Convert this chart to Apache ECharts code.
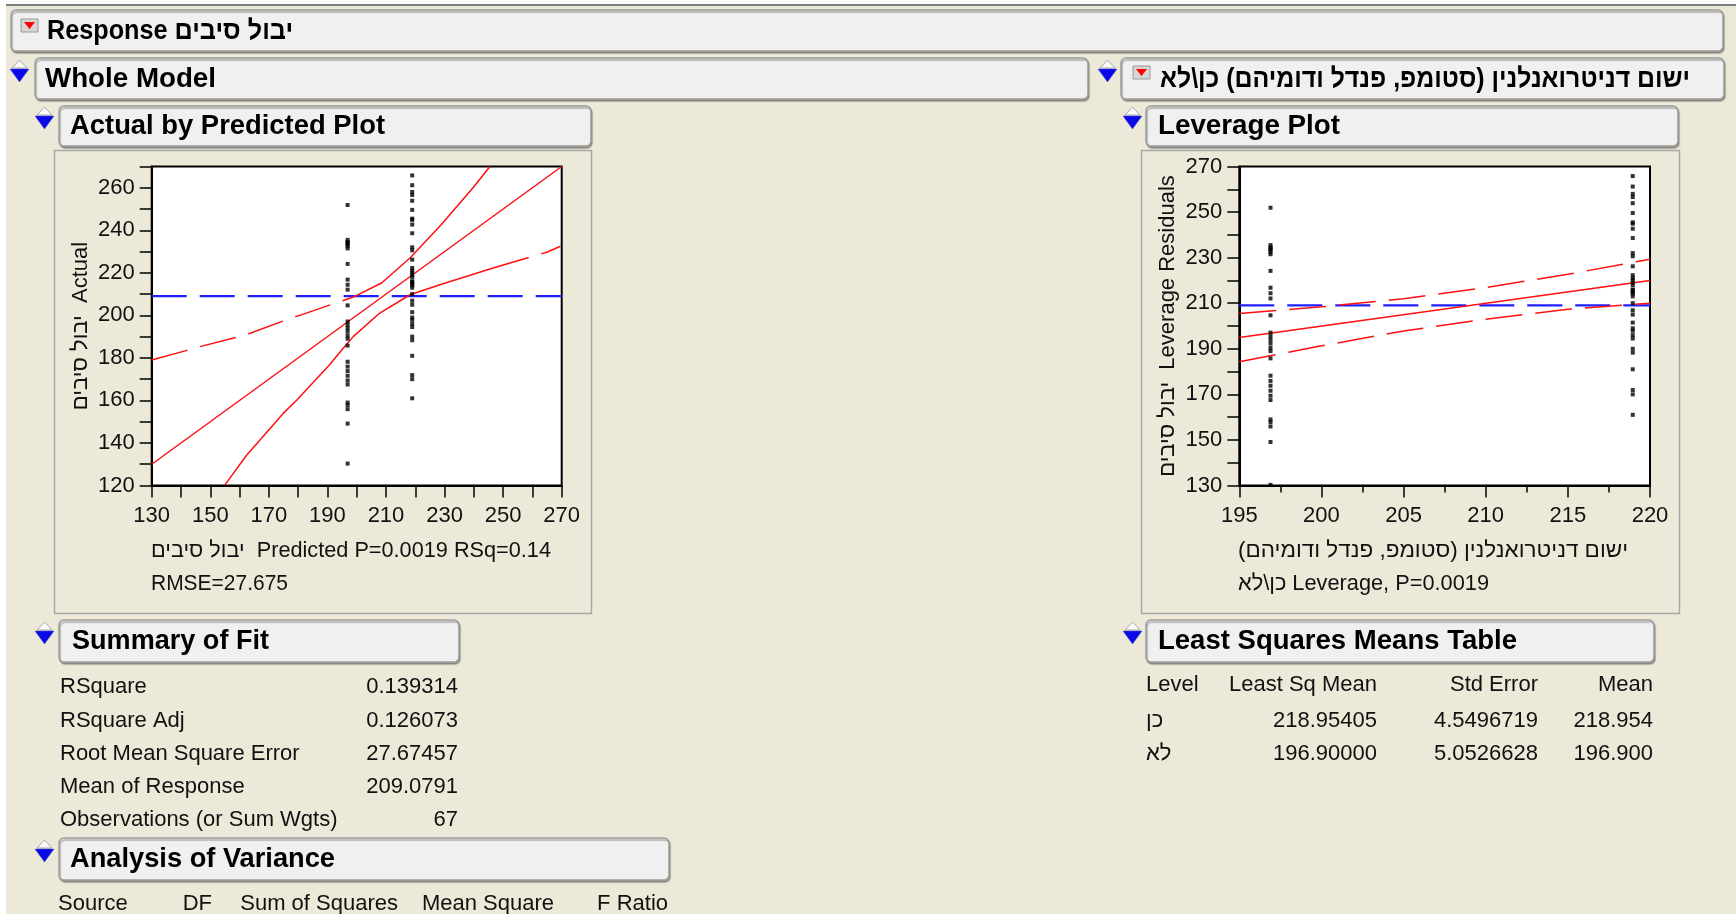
<!DOCTYPE html>
<html><head><meta charset="utf-8">
<script src="https://cdn.jsdelivr.net/npm/echarts@6/dist/echarts.min.js"></script>
<style>html,body{margin:0;padding:0;background:#ffffff;} #c{width:1736px;height:914px;}</style>
</head><body><div id="c"></div>
<script>
// ---------------- data ----------------
const responseName = 'יבול סיבים';
const factorName = 'ישום דניטרואנלנין (סטומפ, פנדל ודומיהם)';
const factorLevelsName = 'כן\\לא';

const noPredicted = 196.9;     // level לא
const yesPredicted = 218.95;   // level כן
const meanResponse = 209.0791;

const noGroupActual = [251.9, 235.5, 234.5, 234, 233.5, 232.5, 231.5, 224.2, 216.8, 214.4, 212.1, 204.7, 197.1, 195.5, 194,
  192.4, 190.5, 189, 185.8, 178.2, 175.9, 173.8, 171.6, 169.4, 167.5, 159, 157.8, 155.9, 149.1, 130.3];
const yesGroupActual = [265.8, 261.2, 258, 256.6, 253.9, 249.6, 245.5, 244.9, 242.7, 238.6, 232, 230.6, 226.2, 222.3, 221,
  220.1, 219, 217.9, 216, 215.7, 214.8, 214.2, 213, 210, 206.9, 205, 201.5, 199, 197.9, 196, 194.5, 190, 188.3, 181, 171.9, 170, 161];

// Actual by Predicted: fit line (Actual = Predicted) and confidence curves
const leftFitX = [130, 270];
const leftUpperX = [130, 141.4, 146.5, 159.0, 163.6, 176.6, 181.8, 194.3, 198.8, 208.5, 218.2, 229.0, 239.8, 245.5];
const leftUpperY = [179.0, 183.3, 185.3, 189.7, 191.6, 198.2, 200.6, 206.5, 208.6, 215.2, 227.0, 242.8, 260.1, 270];
const leftLowerX = [155.0, 162.4, 174.9, 179.5, 190.9, 194.9, 198.8, 207.9, 218.2, 228.4, 246.6, 264.9, 269.6];
const leftLowerY = [120.3, 134.2, 153.9, 160.1, 177.0, 183.7, 190.0, 201.1, 209.7, 214.4, 222.3, 229.7, 232.5];

// Leverage plot
const rightFitX = [195, 220];
const rightUpperX = [195, 200, 205, 210, 215, 220];
const rightUpperY = [205.5, 208.4, 212.0, 216.9, 222.7, 229.3];
const rightLowerX = [195, 200, 205, 210, 215, 220];
const rightLowerY = [184.3, 191.3, 197.8, 203.0, 207.3, 210.0];

// axes
const leftXAxis = {min: 130, max: 270, step: 10, labelStep: 20};
const leftYAxis = {min: 120, max: 270, step: 10, labelStep: 20};
const rightXAxis = {min: 195, max: 220, step: 5};
const rightYAxis = {min: 130, max: 270, step: 10, labelStep: 20};

// tables
const summaryLabels = ['RSquare', 'RSquare Adj', 'Root Mean Square Error', 'Mean of Response', 'Observations (or Sum Wgts)'];
const summaryValues = ['0.139314', '0.126073', '27.67457', '209.0791', '67'];
const lsmHeaders = ['Level', 'Least Sq Mean', 'Std Error', 'Mean'];
const lsmLevels = ['כן', 'לא'];
const lsmLeastSq = ['218.95405', '196.90000'];
const lsmStdErr = ['4.5496719', '5.0526628'];
const lsmMean = ['218.954', '196.900'];
const anovaHeaders = ['Source', 'DF', 'Sum of Squares', 'Mean Square', 'F Ratio'];

// ---------------- chart ----------------
const FONT = "'Liberation Sans', Arial, 'DejaVu Sans', sans-serif";
const TXT = '#111111';
const FS = 22;
const zip = (xs, ys) => xs.map((x, i) => [x, ys[i]]);
const mctx = document.createElement('canvas').getContext('2d');

const chart = echarts.init(document.getElementById('c'), null, {renderer: 'canvas'});

function valAxis(gridIndex, ax, isX, name) {
  const o = {
    type: 'value', gridIndex, min: ax.min, max: ax.max, interval: ax.step,
    axisLine: {show: true, onZero: false, lineStyle: {color: '#000', width: 2}},
    axisTick: {show: true, inside: false, length: 12, lineStyle: {color: '#000', width: 1.5}},
    splitLine: {show: false},
    axisLabel: {
      color: TXT, fontSize: FS, fontFamily: FONT, margin: isX ? 19 : 17,
      formatter: v => (ax.labelStep ? (Math.abs((v - ax.min) % ax.labelStep) < 1e-6 ? String(v) : '') : String(v))
    }
  };
  if (name) {
    o.name = name; o.nameLocation = 'middle'; o.nameRotate = 90; o.nameGap = 60;
    o.nameTextStyle = {color: TXT, fontSize: FS, fontFamily: FONT};
  }
  return o;
}

const rightX = valAxis(1, rightXAxis, true);
rightX.minorTick = {show: true, splitNumber: 2, length: 7, lineStyle: {color: '#000', width: 1.5}};

const redSolid = {color: '#FF1010', width: 1.5};
const redDash = {color: '#FF1010', width: 1.5, type: [37, 13]};
const blueDash = {color: '#2020FF', width: 2.2, type: [35, 13]};

function lineSeries(idx, data, style, z) {
  return {type: 'line', xAxisIndex: idx, yAxisIndex: idx, data, symbol: 'none', showSymbol: false,
    lineStyle: style, clip: true, silent: true, z: z || 2, animation: false};
}

const series = [
  // left: Actual by Predicted
  lineSeries(0, leftFitX.map(x => [x, meanResponse]), blueDash, 1),
  lineSeries(0, leftFitX.map(x => [x, x]), redSolid),
  lineSeries(0, zip(leftUpperX, leftUpperY).slice(0, 9), redDash),
  lineSeries(0, zip(leftUpperX, leftUpperY).slice(8), redSolid),
  lineSeries(0, zip(leftLowerX, leftLowerY).slice(0, 11), redSolid),
  lineSeries(0, zip(leftLowerX, leftLowerY).slice(10), redDash),
  {type: 'scatter', xAxisIndex: 0, yAxisIndex: 0, symbol: 'rect', symbolSize: [4, 4],
    itemStyle: {color: '#000'}, z: 5, silent: true, clip: false,
    data: noGroupActual.map(v => [noPredicted, v]).concat(yesGroupActual.map(v => [yesPredicted, v]))},
  // right: Leverage plot
  lineSeries(1, rightFitX.map(x => [x, meanResponse]), blueDash, 1),
  lineSeries(1, rightFitX.map(x => [x, x]), redSolid),
  lineSeries(1, zip(rightUpperX, rightUpperY), redDash),
  lineSeries(1, zip(rightLowerX, rightLowerY), redDash),
  {type: 'scatter', xAxisIndex: 1, yAxisIndex: 1, symbol: 'rect', symbolSize: [4, 4],
    itemStyle: {color: '#000'}, z: 5, silent: true, clip: false,
    data: noGroupActual.map(v => [noPredicted, v]).concat(yesGroupActual.map(v => [yesPredicted, v]))}
];

// ---------- graphic helpers ----------
const G = [];
function rect(x, y, w, h, style, r, z) {
  G.push({type: 'rect', shape: {x, y, width: w, height: h, r: r || 0}, style, z: z || 0, silent: true});
}
// fitW: width the text occupies in the reference (stretch/squeeze horizontally to it)
function text(t, x, y, opts) {
  opts = opts || {};
  const font = (opts.bold ? 'bold ' : '') + (opts.size || FS) + 'px ' + FONT;
  let sx = 1;
  if (opts.fitW) { mctx.font = font; const w = mctx.measureText(t).width; if (w > 0) sx = opts.fitW / w; }
  G.push({type: 'text', x, y, scaleX: sx, silent: true, z: 10, style: {
    text: t, x: 0, y: 0, fill: opts.fill || TXT, align: opts.align || 'left', verticalAlign: 'middle', font}});
}
function header(x, y, w, h, t, tx, fitW) {
  G.push({type: 'rect', shape: {x: x, y: y, width: w, height: h, r: 5}, silent: true, z: 1,
    style: {fill: '#F0F0F0', stroke: '#9C9C9C', lineWidth: 1.5,
      shadowColor: 'rgba(0,0,0,0.30)', shadowOffsetX: 1, shadowOffsetY: 2, shadowBlur: 1}});
  text(t, tx, y + h / 2 + 1, {bold: true, size: 27, fill: '#000', fitW});
}
function blueIcon(x0, y0) {
  G.push({type: 'polygon', shape: {points: [[x0 + 9.5, y0], [x0 + 17, y0 + 8], [x0 + 2, y0 + 8]]}, silent: true, z: 3,
    style: {fill: '#FAFAFA', stroke: '#A8A8A8', lineWidth: 1}});
  G.push({type: 'polygon', shape: {points: [[x0, y0 + 9], [x0 + 19, y0 + 9], [x0 + 9.5, y0 + 22]]}, silent: true, z: 3,
    style: {fill: '#0A0AE6', stroke: '#5050C8', lineWidth: 0.5}});
}
function redIcon(x0, y0) {
  G.push({type: 'rect', shape: {x: x0, y: y0, width: 17, height: 13}, silent: true, z: 3,
    style: {fill: '#D6D6D6', stroke: '#9A9A9A', lineWidth: 1}});
  G.push({type: 'polygon', shape: {points: [[x0 + 3, y0 + 3], [x0 + 14, y0 + 3], [x0 + 8.5, y0 + 10]]}, silent: true, z: 4,
    style: {fill: '#FF0000'}});
}

// page background (beige) with top rule
rect(6, 6, 1730, 908, {fill: '#ECE9D8'}, 0, -5);
G.push({type: 'line', shape: {x1: 6, y1: 5, x2: 1736, y2: 5}, style: {stroke: '#7C7C7C', lineWidth: 2}, silent: true, z: 0});

// headers
header(11, 10, 1712, 41, 'Response ' + responseName, 47, 246);
redIcon(21, 19);
header(35, 58, 1053, 41, 'Whole Model', 45, 171);
blueIcon(10, 60);
header(1121, 58, 603, 41, factorName + ' ' + factorLevelsName, 1160, 530);
blueIcon(1098, 60);
redIcon(1133, 66);
header(59, 106, 532, 40, 'Actual by Predicted Plot', 70, 315);
blueIcon(35, 107);
header(1146, 106, 532, 40, 'Leverage Plot', 1158, 182);
blueIcon(1123, 107);

// plot panels
rect(54.5, 150.5, 537, 463, {fill: 'none', stroke: '#A6A6A6', lineWidth: 1.5}, 0, 0);
rect(1141.5, 150.5, 538, 463, {fill: 'none', stroke: '#A6A6A6', lineWidth: 1.5}, 0, 0);

// plot footers
text(responseName + '  Predicted P=0.0019 RSq=0.14', 151, 551, {fitW: 400});
text('RMSE=27.675', 151, 584, {fitW: 137});
text(factorName, 1238, 551, {fitW: 390});
text(factorLevelsName + ' Leverage, P=0.0019', 1238, 584, {fitW: 251});

// Summary of Fit
header(59, 620, 400, 42, 'Summary of Fit', 72, 197);
blueIcon(35, 622);
const sumY = [687, 720.5, 753.5, 786.5, 819.5];
summaryLabels.forEach((l, i) => { text(l, 60, sumY[i]); text(summaryValues[i], 458, sumY[i], {align: 'right'}); });

// Analysis of Variance
header(59, 838, 610, 42, 'Analysis of Variance', 70, 265);
blueIcon(35, 840);
text(anovaHeaders[0], 58, 904);
const anovaRight = [null, 212, 398, 554, 668];
for (let i = 1; i < anovaHeaders.length; i++) text(anovaHeaders[i], anovaRight[i], 904, {align: 'right'});

// Least Squares Means Table
header(1146, 620, 508, 42, 'Least Squares Means Table', 1158, 359);
blueIcon(1123, 622);
text(lsmHeaders[0], 1146, 685);
text(lsmHeaders[1], 1377, 685, {align: 'right'});
text(lsmHeaders[2], 1538, 685, {align: 'right'});
text(lsmHeaders[3], 1653, 685, {align: 'right'});
const lsmY = [720.5, 753.5];
lsmLevels.forEach((lv, i) => {
  text(lv, 1146, lsmY[i]);
  text(lsmLeastSq[i], 1377, lsmY[i], {align: 'right'});
  text(lsmStdErr[i], 1538, lsmY[i], {align: 'right'});
  text(lsmMean[i], 1653, lsmY[i], {align: 'right'});
});

chart.setOption({
  animation: false,
  backgroundColor: 'transparent',
  grid: [
    {left: 151.7, top: 166.5, width: 410, height: 319, show: true, backgroundColor: '#FFFFFF', borderColor: '#000', borderWidth: 2, z: 0},
    {left: 1239.3, top: 166.5, width: 410.7, height: 319, show: true, backgroundColor: '#FFFFFF', borderColor: '#000', borderWidth: 2, z: 0}
  ],
  xAxis: [valAxis(0, leftXAxis, true), rightX],
  yAxis: [valAxis(0, leftYAxis, false, responseName + '  Actual'),
          valAxis(1, rightYAxis, false, responseName + '  Leverage Residuals')],
  series,
  graphic: G
});
</script></body></html>
